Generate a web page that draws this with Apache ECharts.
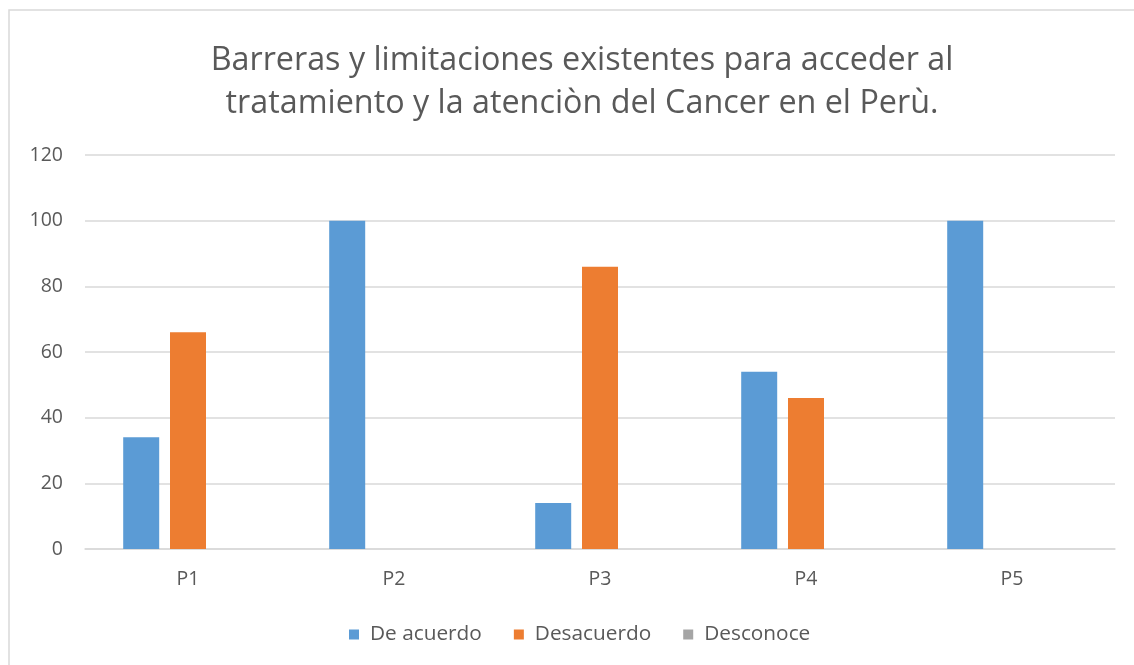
<!DOCTYPE html>
<html>
<head>
<meta charset="utf-8">
<script src="https://cdn.jsdelivr.net/npm/echarts@6/dist/echarts.min.js"></script>
<style>
  html, body { margin: 0; padding: 0; background: #fff; }
  #chart { width: 1134px; height: 665px; }
</style>
</head>
<body>
<div id="chart"></div>
<script>
const categories = ['P1', 'P2', 'P3', 'P4', 'P5'];
const deAcuerdo = [34, 100, 14, 54, 100];
const desacuerdo = [66, 0, 86, 46, 0];
const desconoce = [0, 0, 0, 0, 0];
const yTicks = { min: 0, max: 120, interval: 20 };

const font = '"Open Sans", "Noto Sans", sans-serif';
const textColor = '#595959';

const chart = echarts.init(document.getElementById('chart'));
const barStyle = (color) => ({
  type: 'bar',
  barWidth: 36,
  barGap: '30%',
  itemStyle: { color: color }
});

chart.setOption({
  animation: false,
  graphic: [{
    type: 'rect',
    shape: { x: 9, y: 10, width: 1140, height: 670 },
    style: { fill: 'none', stroke: '#d9d9d9', lineWidth: 1.5 },
    silent: true
  }],
  title: {
    text: 'Barreras y limitaciones existentes para acceder al\ntratamiento y la atenciòn del Cancer en el Perù.',
    left: 577,
    textAlign: 'center',
    top: 34,
    textStyle: {
      fontFamily: font,
      fontSize: 32.3,
      fontWeight: 'normal',
      color: textColor,
      lineHeight: 43
    }
  },
  legend: {
    bottom: 15,
    left: 344,
    itemWidth: 10,
    itemHeight: 10,
    itemGap: 32,
    icon: 'rect',
    textStyle: { fontFamily: font, fontSize: 20.8, color: textColor, padding: [0, 0, 0, 6] }
  },
  grid: { left: 85, right: 19, top: 155, bottom: 116 },
  xAxis: {
    type: 'category',
    data: categories,
    axisTick: { show: false },
    axisLine: { lineStyle: { color: '#d9d9d9', width: 1.5 } },
    axisLabel: { fontFamily: font, fontSize: 19.5, color: textColor, margin: 20 }
  },
  yAxis: {
    type: 'value',
    min: yTicks.min,
    max: yTicks.max,
    interval: yTicks.interval,
    axisLine: { show: false },
    axisTick: { show: false },
    splitLine: { lineStyle: { color: '#d9d9d9', width: 1.5 } },
    axisLabel: { fontFamily: font, fontSize: 19.5, color: textColor, margin: 22 }
  },
  series: [
    Object.assign({ name: 'De acuerdo', data: deAcuerdo }, barStyle('#5b9bd5')),
    Object.assign({ name: 'Desacuerdo', data: desacuerdo }, barStyle('#ed7d31')),
    Object.assign({ name: 'Desconoce', data: desconoce }, barStyle('#a5a5a5'))
  ]
});
</script>
</body>
</html>
